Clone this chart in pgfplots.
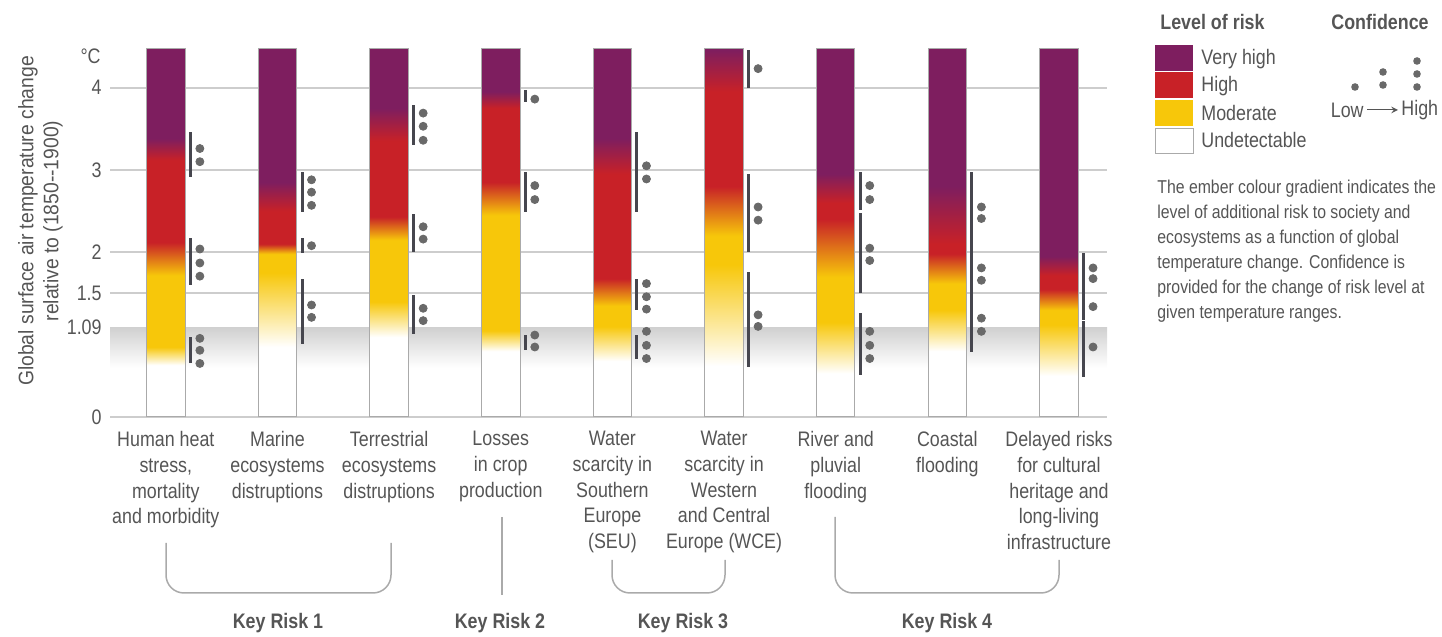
\documentclass[border=0pt]{standalone}
\usepackage{pgfplots}
\pgfplotsset{compat=1.18}
\usepackage{pgfplotstable}
\usepackage{fontspec}
\setmainfont{Liberation Sans}[FakeStretch=0.85]
\newfontfamily\yfont{Liberation Sans}[FakeStretch=0.92]

\definecolor{vhigh}{RGB}{126,30,95}
\definecolor{high}{RGB}{200,33,39}
\definecolor{moder}{RGB}{247,199,10}
\definecolor{txt}{RGB}{85,85,85}
\definecolor{gridc}{RGB}{205,205,205}
\definecolor{band}{RGB}{208,208,208}
\definecolor{confbar}{RGB}{70,70,78}
\definecolor{dotc}{RGB}{105,105,105}
\definecolor{outline}{RGB}{170,170,170}

% one vertical shading per ember, from its breakpoints (deg C):
% white ends, full moderate, moderate ends, full high, high ends, full very high
% (embers run from 0 to 4.48)
\newcommand\emberdef[7]{%
  \pgfmathsetmacro\pa{25+50*#2/4.48}%
  \pgfmathsetmacro\pb{25+50*#3/4.48}%
  \pgfmathsetmacro\pc{25+50*#4/4.48}%
  \pgfmathsetmacro\pd{25+50*#5/4.48}%
  \pgfmathsetmacro\pe{25+50*#6/4.48}%
  \pgfmathsetmacro\pf{25+50*#7/4.48}%
  \edef\tmp{\noexpand\pgfdeclareverticalshading{#1}{100bp}{%
    color(0bp)=(white); color(\pa bp)=(white); color(\pb bp)=(moder);
    color(\pc bp)=(moder); color(\pd bp)=(high); color(\pe bp)=(high);
    color(\pf bp)=(vhigh); color(100bp)=(vhigh)}}%
  \tmp}
\emberdef{ember0}{0.63}{0.85}{1.72}{2.12}{3.12}{3.38}
\emberdef{ember1}{0.85}{1.75}{1.98}{2.10}{2.50}{2.85}
\emberdef{ember2}{0.97}{1.40}{2.15}{2.43}{3.35}{3.75}
\emberdef{ember3}{0.80}{1.05}{2.45}{2.85}{3.75}{3.95}
\emberdef{ember4}{0.68}{1.10}{1.35}{1.68}{2.95}{3.38}
\emberdef{ember5}{0.62}{1.85}{2.20}{2.80}{3.95}{4.46}
\emberdef{ember6}{0.53}{1.15}{1.70}{2.40}{2.60}{2.95}
\emberdef{ember7}{0.80}{1.30}{1.62}{1.98}{2.10}{2.80}
\emberdef{ember8}{0.50}{1.12}{1.30}{1.55}{1.72}{1.95}

% confidence bars
\pgfplotstableread{
i lo hi
0 0.65 0.97
0 1.60 2.17
0 2.92 3.46
1 0.89 1.68
1 1.99 2.17
1 2.49 2.97
2 1.01 1.48
2 2.00 2.47
2 3.30 3.79
3 0.81 1.00
3 2.49 2.97
3 3.83 3.97
4 0.71 1.00
4 1.30 1.68
4 2.49 3.46
5 0.61 1.76
5 2.00 2.95
5 3.99 4.46
6 0.51 1.26
6 1.50 2.48
6 2.51 2.97
7 0.79 2.98
8 0.49 1.16
8 1.18 1.99
}\confbars

% confidence dots
\pgfplotstableread{
i y
0 0.955
0 0.81
0 0.65
0 2.04
0 1.87
0 1.71
0 3.26
0 3.10
1 1.36
1 1.21
1 2.08
1 2.88
1 2.73
1 2.57
2 1.32
2 1.17
2 2.31
2 2.16
2 3.69
2 3.53
2 3.36
3 0.995
3 0.85
3 2.81
3 2.64
3 3.86
4 1.04
4 0.87
4 0.71
4 1.62
4 1.46
4 1.31
4 3.05
4 2.89
5 1.24
5 1.10
5 2.55
5 2.39
5 4.23
6 1.04
6 0.87
6 0.71
6 2.05
6 1.90
6 2.81
6 2.64
7 2.55
7 2.41
7 1.81
7 1.66
7 1.20
7 1.04
8 1.81
8 1.68
8 1.34
8 0.85
}\confdots

\pgfplotsset{
  base/.style={
    at={(55pt,110pt)}, anchor=south west,
    scale only axis, width=498.5pt, height=185.3pt,
    xmin=-0.5, xmax=8.43, ymin=0, ymax=4.5
  }
}
\newcommand\lab{\fontsize{10.5}{12.85}\selectfont}

\begin{document}
\begin{tikzpicture}
\path[use as bounding box] (0,0) rectangle (721pt,318.5pt);

% background: grid, ticks, labels, band
\begin{axis}[base,
  axis line style={draw=none},
  major tick length=0pt,
  ytick={0,1.5,2,3,4},
  extra y ticks={1.09},
  extra y tick style={grid=none},
  ymajorgrids,
  grid style={gridc, line width=1pt},
  /pgf/number format/assume math mode=true,
  yticklabel style={font=\lab, text=txt, inner sep=0pt, xshift=-4pt},
  xtick={0,...,8},
  xticklabels={
    {Human heat\\stress,\\mortality\\and morbidity},
    {Marine\\ecosystems\\distruptions},
    {Terrestrial\\ecosystems\\distruptions},
    {Losses\\in crop\\production},
    {Water\\scarcity in\\Southern\\Europe\\(SEU)},
    {Water\\scarcity in\\Western\\and Central\\Europe (WCE)},
    {River and\\pluvial\\flooding},
    {Coastal\\flooding},
    {Delayed risks\\for cultural\\heritage and\\long-living\\infrastructure}},
  xticklabel style={font=\lab, text=txt, align=center, anchor=north,
    inner sep=0pt, yshift=-7pt},
]
\addplot[draw=none, top color=band, bottom color=white]
  coordinates {(-0.5,0.6) (-0.5,1.09) (8.43,1.09) (8.43,0.6)} -- cycle;
\end{axis}

% embers, outlines and confidence
\begin{axis}[base, hide axis, clip=false]
\pgfplotsinvokeforeach{0,...,8}{
  \addplot[ybar, bar width=0.345, bar shift=0pt, draw=none,
    shade, shading=ember#1] coordinates {(#1,4.48)};
}
\addplot[ybar, bar width=0.345, bar shift=0pt, draw=outline, fill=none,
  line width=0.5pt] coordinates {(0,4.48) (1,4.48) (2,4.48) (3,4.48)
  (4,4.48) (5,4.48) (6,4.48) (7,4.48) (8,4.48)};
\addplot[draw=none, mark=none,
  error bars/.cd, y dir=both, y explicit, error mark=none,
  error bar style={draw=confbar, line width=1.5pt}]
  table[x expr=\thisrow{i}+0.22, y expr=0.5*(\thisrow{lo}+\thisrow{hi}),
        y error expr=0.5*(\thisrow{hi}-\thisrow{lo})] \confbars;
\addplot[only marks, mark=*, mark size=2pt, color=dotc]
  table[x expr=\thisrow{i}+0.305, y=y] \confdots;
\end{axis}

% annotations in pixel coordinates of the reference
\begin{scope}[shift={(0pt,318.5pt)}, x=0.5pt, y=-0.5pt]
\node[rotate=90, align=center, font=\yfont\fontsize{10.5}{12.5}\selectfont, text=txt]
  at (40.5,221) {Global surface air temperature change\\relative to (1850--1900)};
\node[anchor=east, font=\lab, text=txt, inner sep=0pt] at (101,56) {°C};

\begin{scope}[draw=outline, line width=0.75pt, rounded corners=9pt]
\draw (166,543) -- (166,593) -- (391,593) -- (391,543);
\draw (502,517) -- (502,595);
\draw (612,560) -- (612,593) -- (725,593) -- (725,560);
\draw (835,517) -- (835,593) -- (1059,593) -- (1059,560);
\end{scope}
\foreach \x/\k in {278/1, 500/2, 683/3, 947/4}
  \node[font=\lab\bfseries, text=txt] at (\x,623) {Key Risk \k};

% legend
\node[anchor=west, font=\lab\bfseries, text=txt, inner sep=0pt] at (1160,22) {Level of risk};
\node[anchor=west, font=\lab\bfseries, text=txt, inner sep=0pt] at (1331,22) {Confidence};
\fill[vhigh] (1155,45) rectangle (1193,71);
\fill[high] (1155,72.5) rectangle (1193,98.5);
\fill[moder] (1155,100) rectangle (1193,126);
\draw[outline, fill=white, line width=0.4pt] (1155,128) rectangle (1193,153);
\foreach \y/\t in {59/Very high, 86/High, 113/Moderate, 140/Undetectable}
  \node[anchor=west, font=\lab, text=txt, inner sep=0pt] at (1201,\y) {\t};
\foreach \x/\y in {1355/87, 1383/72, 1383/85, 1417/61, 1417/74, 1417/87}
  \fill[dotc] (\x,\y) circle[radius=1.9pt];
\node[anchor=east, font=\lab, text=txt, inner sep=0pt] at (1364,110) {Low};
\draw[-stealth, txt, line width=0.5pt] (1367,110) -- (1398,110);
\node[anchor=west, font=\lab, text=txt, inner sep=0pt] at (1401,110) {High};
\node[anchor=north west, align=left, font=\fontsize{9.3}{12.5}\selectfont, text=txt, inner sep=0pt]
  at (1157,180) {The ember colour gradient indicates the\\
  level of additional risk to society and\\
  ecosystems as a function of global\\
  temperature change. Confidence is\\
  provided for the change of risk level at\\
  given temperature ranges.};
\end{scope}
\end{tikzpicture}
\end{document}
